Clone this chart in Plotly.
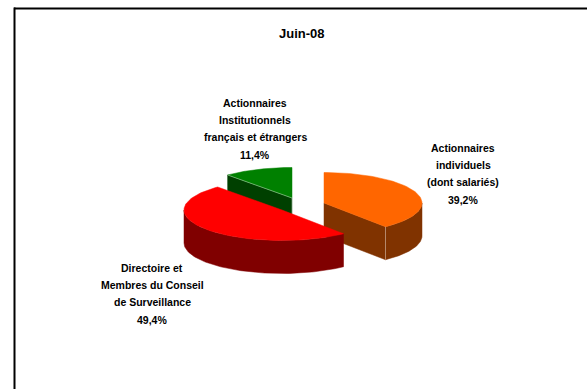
import numpy as np
import plotly.graph_objects as go

# Shareholding split, June 2008
title = "Juin-08"
shares = [39.2, 49.4, 11.4]
label_lines = [
    ["Actionnaires", "individuels", "(dont salariés)"],
    ["Directoire et", "Membres du Conseil", "de Surveillance"],
    ["Actionnaires", "Institutionnels", "français et étrangers"],
]
top_colors = ["#FF6600", "#FF0000", "#008000"]
side_colors = ["#803300", "#800000", "#004000"]

# Projected pie geometry, in page pixels
RX, RY, DEPTH = 98, 30.5, 33
apexes = [(324, 203), (282, 210), (292, 198)]
label_pos = [(463, 148), (152, 268), (255, 103)]
LINE_STEP = 17.2
FONT = dict(family="Liberation Sans, Arial, sans-serif", size=10.5, color="#000000")
SEAM = "rgba(255,255,255,0.55)"


def rim(cx, cy, a0, a1, n=80):
    """Points on the top ellipse between two clockwise angles from 12 o'clock."""
    a = np.radians(np.linspace(a0, a1, n))
    return cx + RX * np.sin(a), cy - RY * np.cos(a)


def polygon(fig, x, y, color):
    fig.add_trace(go.Scatter(
        x=np.r_[x, x[0]], y=np.r_[y, y[0]], mode="lines", fill="toself",
        fillcolor=color, line=dict(color=color, width=0.5),
        hoverinfo="skip", showlegend=False,
    ))


def seam(fig, x, y):
    fig.add_trace(go.Scatter(
        x=x, y=y, mode="lines", line=dict(color=SEAM, width=0.7),
        hoverinfo="skip", showlegend=False,
    ))


def cut_face(fig, apex, angle, color):
    cx, cy = apex
    ex, ey = rim(cx, cy, angle, angle, 1)
    polygon(fig, np.array([cx, ex[0], ex[0], cx]),
            np.array([cy, ey[0], ey[0] + DEPTH, cy + DEPTH]), color)


def outer_wall(fig, apex, a0, a1, color):
    x, y = rim(*apex, a0, a1)
    polygon(fig, np.r_[x, x[::-1]], np.r_[y, y[::-1] + DEPTH], color)


def top_face(fig, apex, a0, a1, color):
    x, y = rim(*apex, a0, a1)
    polygon(fig, np.r_[apex[0], x], np.r_[apex[1], y], color)


# Cumulative clockwise angles starting at 12 o'clock
edges = np.r_[0, np.cumsum(shares)] / sum(shares) * 360

fig = go.Figure()

# Back to front: institutional slice, individual slice, then the board slice
cut_face(fig, apexes[2], edges[2], side_colors[2])
top_face(fig, apexes[2], edges[2], edges[3], top_colors[2])
gx, gy = rim(*apexes[2], edges[2], edges[2], 1)
seam(fig, [gx[0], apexes[2][0], apexes[2][0]],
     [gy[0], apexes[2][1], apexes[2][1] + DEPTH / 2])

outer_wall(fig, apexes[0], 90, edges[1], side_colors[0])
cut_face(fig, apexes[0], edges[1], side_colors[0])
top_face(fig, apexes[0], edges[0], edges[1], top_colors[0])
ox, oy = rim(*apexes[0], edges[1], edges[1], 1)
seam(fig, [ox[0], ox[0]], [oy[0], oy[0] + DEPTH])

outer_wall(fig, apexes[1], edges[1], 270, side_colors[1])
top_face(fig, apexes[1], edges[1], edges[2], top_colors[1])

annotations = [dict(x=301.5, y=33, text=f"<b>{title}</b>", showarrow=False,
                    xanchor="center", yanchor="middle", font={**FONT, "size": 13})]
for lines, share, (lx, ly) in zip(label_lines, shares, label_pos):
    pct = f"{share:.1f}".replace(".", ",") + "%"
    for i, line in enumerate(lines + [pct]):
        annotations.append(dict(x=lx, y=ly + i * LINE_STEP, text=f"<b>{line}</b>",
                                showarrow=False, xanchor="center", yanchor="middle",
                                font=FONT))

hidden = dict(visible=False, fixedrange=True)
fig.update_layout(
    width=587, height=389, margin=dict(l=0, r=0, t=0, b=0),
    paper_bgcolor="white", plot_bgcolor="white",
    xaxis=dict(range=[0, 587], **hidden),
    yaxis=dict(range=[389, 0], **hidden),
    annotations=annotations,
    # Chart frame runs off the right and bottom of the page
    shapes=[
        dict(type="line", x0=14, x1=587, y0=8.5, y1=8.5, line=dict(color="#000000", width=2)),
        dict(type="line", x0=14.5, x1=14.5, y0=7.5, y1=389, line=dict(color="#000000", width=2)),
    ],
)

fig.write_html("out.html")
